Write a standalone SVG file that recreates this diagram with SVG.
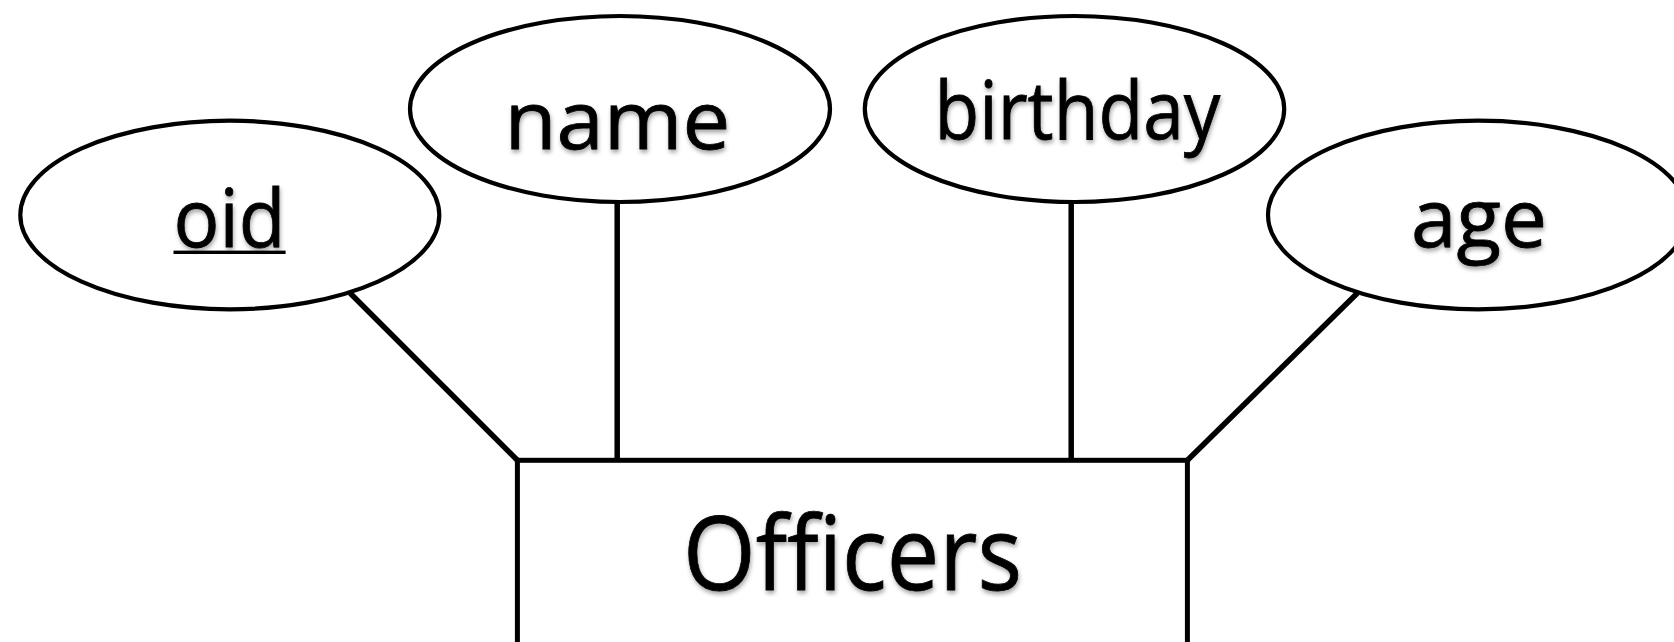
<svg xmlns="http://www.w3.org/2000/svg" width="1674" height="642" viewBox="0 0 1674 642">
  <defs>
    <filter id="sh" x="-10%" y="-20%" width="120%" height="150%">
      <feDropShadow dx="1" dy="3" stdDeviation="2" flood-color="#000" flood-opacity="0.35"/>
    </filter>
    <style>
      .attr { fill: #fff; stroke: #000; stroke-width: 4.2; }
      .ent { fill: #fff; stroke: #000; stroke-width: 5; }
      .conn { stroke: #000; stroke-width: 5.5; fill: none; }
      .lbl { font-family: "Open Sans", "Noto Sans", sans-serif; font-size: 80px; fill: #000; stroke: #000; stroke-width: 0.8; text-anchor: middle; filter: url(#sh); }
      .big { font-size: 102px; }
    </style>
  </defs>
  <rect width="1674" height="642" fill="#fff"/>
  <g id="connectors">
    <line class="conn" x1="350" y1="293" x2="517.4" y2="460.3"/>
    <line class="conn" x1="617.2" y1="202" x2="617.2" y2="460.3"/>
    <line class="conn" x1="1071.2" y1="202" x2="1071.2" y2="460.3"/>
    <line class="conn" x1="1357.5" y1="293" x2="1187.4" y2="460.3"/>
  </g>
  <g id="officers">
    <rect class="ent" x="517.4" y="460.3" width="670" height="220"/>
    <text class="lbl big" x="852.5" y="590.3" textLength="339" lengthAdjust="spacingAndGlyphs">Officers</text>
  </g>
  <g id="oid">
    <ellipse class="attr" cx="229.8" cy="215" rx="209.5" ry="94.3"/>
    <text class="lbl" x="229.5" y="246.7" textLength="112" lengthAdjust="spacingAndGlyphs">oid</text>
    <rect x="173.5" y="250.6" width="112.1" height="3.4" fill="#000"/>
  </g>
  <g id="name">
    <ellipse class="attr" cx="620" cy="109" rx="210" ry="93"/>
    <text class="lbl" x="617.4" y="149" textLength="226" lengthAdjust="spacingAndGlyphs">name</text>
  </g>
  <g id="birthday">
    <ellipse class="attr" cx="1074.5" cy="109" rx="209.7" ry="93"/>
    <text class="lbl" x="1077.5" y="139.3" textLength="286" lengthAdjust="spacingAndGlyphs">birthday</text>
  </g>
  <g id="age">
    <ellipse class="attr" cx="1478" cy="215" rx="210" ry="94.3"/>
    <text class="lbl" x="1479" y="246.7" textLength="136" lengthAdjust="spacingAndGlyphs">age</text>
  </g>
</svg>
